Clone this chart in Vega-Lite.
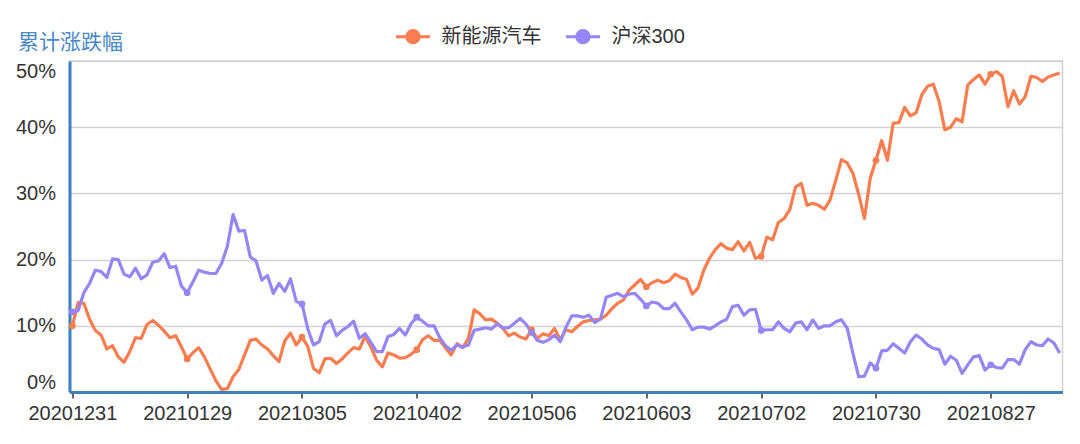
{
  "$schema": "https://vega.github.io/schema/vega-lite/v6.json",
  "width": 993,
  "height": 331,
  "autosize": {"type": "none"},
  "padding": {"left": 69.5, "top": 61, "right": 17.5, "bottom": 52},
  "background": "white",
  "config": {
    "font": "Liberation Sans, Noto Sans CJK SC",
    "view": {"stroke": "#d2d2d2", "strokeWidth": 1.5}
  },
  "data": {
    "values": [
      {"date": "20201231", "新能源汽车": 10.0, "沪深300": 12.1},
      {"date": "20210104", "新能源汽车": 13.5, "沪深300": 12.3},
      {"date": "20210105", "新能源汽车": 13.4, "沪深300": 15.0},
      {"date": "20210106", "新能源汽车": 11.0, "沪深300": 16.4},
      {"date": "20210107", "新能源汽车": 9.3, "沪深300": 18.4},
      {"date": "20210108", "新能源汽车": 8.6, "沪深300": 18.2},
      {"date": "20210111", "新能源汽车": 6.5, "沪深300": 17.3},
      {"date": "20210112", "新能源汽车": 7.0, "沪深300": 20.1},
      {"date": "20210113", "新能源汽车": 5.3, "沪深300": 20.0},
      {"date": "20210114", "新能源汽车": 4.5, "沪深300": 17.8},
      {"date": "20210115", "新能源汽车": 6.1, "沪深300": 17.4},
      {"date": "20210118", "新能源汽车": 8.2, "沪深300": 18.7},
      {"date": "20210119", "新能源汽车": 8.1, "沪深300": 17.1},
      {"date": "20210120", "新能源汽车": 10.2, "沪深300": 17.7},
      {"date": "20210121", "新能源汽车": 10.8, "沪深300": 19.6},
      {"date": "20210122", "新能源汽车": 10.1, "沪深300": 19.8},
      {"date": "20210125", "新能源汽车": 9.2, "沪深300": 20.9},
      {"date": "20210126", "新能源汽车": 8.2, "沪深300": 18.8},
      {"date": "20210127", "新能源汽车": 8.5, "沪深300": 19.0},
      {"date": "20210128", "新能源汽车": 6.8, "沪深300": 16.0},
      {"date": "20210129", "新能源汽车": 5.0, "沪深300": 15.0},
      {"date": "20210201", "新能源汽车": 5.9, "沪深300": 16.6},
      {"date": "20210202", "新能源汽车": 6.7, "沪深300": 18.4},
      {"date": "20210203", "新能源汽车": 5.3, "沪深300": 18.1},
      {"date": "20210204", "新能源汽车": 3.5, "沪深300": 17.9},
      {"date": "20210205", "新能源汽车": 1.7, "沪深300": 17.9},
      {"date": "20210208", "新能源汽车": 0.4, "沪深300": 19.4},
      {"date": "20210209", "新能源汽车": 0.5, "沪深300": 22.0},
      {"date": "20210210", "新能源汽车": 2.3, "沪深300": 26.8},
      {"date": "20210218", "新能源汽车": 3.4, "沪深300": 24.3},
      {"date": "20210219", "新能源汽车": 5.6, "沪深300": 24.4},
      {"date": "20210222", "新能源汽车": 7.8, "沪深300": 20.4},
      {"date": "20210223", "新能源汽车": 8.0, "沪深300": 19.8},
      {"date": "20210224", "新能源汽车": 7.1, "沪深300": 16.9},
      {"date": "20210225", "新能源汽车": 6.5, "沪深300": 17.6},
      {"date": "20210226", "新能源汽车": 5.5, "沪深300": 14.9},
      {"date": "20210301", "新能源汽车": 4.6, "沪深300": 16.4},
      {"date": "20210302", "新能源汽车": 7.7, "沪深300": 15.2},
      {"date": "20210303", "新能源汽车": 8.9, "沪深300": 17.1},
      {"date": "20210304", "新能源汽车": 7.1, "沪深300": 13.7},
      {"date": "20210305", "新能源汽车": 8.3, "沪深300": 13.3},
      {"date": "20210308", "新能源汽车": 6.9, "沪深300": 9.6},
      {"date": "20210309", "新能源汽车": 3.6, "沪深300": 7.1},
      {"date": "20210310", "新能源汽车": 2.9, "沪深300": 7.6},
      {"date": "20210311", "新能源汽车": 5.0, "沪深300": 10.3},
      {"date": "20210312", "新能源汽车": 5.1, "沪深300": 10.8},
      {"date": "20210315", "新能源汽车": 4.3, "沪深300": 8.5},
      {"date": "20210316", "新能源汽车": 5.0, "沪深300": 9.3},
      {"date": "20210317", "新能源汽车": 5.9, "沪深300": 9.9},
      {"date": "20210318", "新能源汽车": 6.7, "沪深300": 10.7},
      {"date": "20210319", "新能源汽车": 6.5, "沪深300": 8.1},
      {"date": "20210322", "新能源汽车": 8.4, "沪深300": 8.8},
      {"date": "20210323", "新能源汽车": 6.8, "沪深300": 7.5},
      {"date": "20210324", "新能源汽车": 4.8, "沪深300": 6.1},
      {"date": "20210325", "新能源汽车": 3.8, "沪深300": 6.1},
      {"date": "20210326", "新能源汽车": 5.9, "沪深300": 8.4},
      {"date": "20210329", "新能源汽车": 5.6, "沪深300": 8.7},
      {"date": "20210330", "新能源汽车": 5.1, "沪深300": 9.6},
      {"date": "20210331", "新能源汽车": 5.2, "沪深300": 8.6},
      {"date": "20210401", "新能源汽车": 5.7, "沪深300": 10.3},
      {"date": "20210402", "新能源汽车": 6.4, "沪深300": 11.3},
      {"date": "20210406", "新能源汽车": 7.9, "沪深300": 10.7},
      {"date": "20210407", "新能源汽车": 8.5, "沪深300": 10.0},
      {"date": "20210408", "新能源汽车": 7.8, "沪深300": 10.0},
      {"date": "20210409", "新能源汽车": 7.8, "沪深300": 8.2},
      {"date": "20210412", "新能源汽车": 6.7, "沪深300": 7.0},
      {"date": "20210413", "新能源汽车": 5.6, "沪深300": 6.3},
      {"date": "20210414", "新能源汽车": 7.3, "沪深300": 7.1},
      {"date": "20210415", "新能源汽车": 6.7, "沪深300": 6.8},
      {"date": "20210416", "新能源汽车": 8.1, "沪深300": 7.1},
      {"date": "20210419", "新能源汽车": 12.4, "沪深300": 9.3},
      {"date": "20210420", "新能源汽车": 11.8, "沪深300": 9.5},
      {"date": "20210421", "新能源汽车": 10.9, "沪深300": 9.7},
      {"date": "20210422", "新能源汽车": 11.0, "沪深300": 9.5},
      {"date": "20210423", "新能源汽车": 10.4, "沪深300": 10.3},
      {"date": "20210426", "新能源汽车": 9.6, "沪深300": 9.7},
      {"date": "20210427", "新能源汽车": 8.5, "沪深300": 9.7},
      {"date": "20210428", "新能源汽车": 8.9, "沪深300": 10.4},
      {"date": "20210429", "新能源汽车": 8.3, "沪深300": 11.1},
      {"date": "20210430", "新能源汽车": 8.0, "沪深300": 10.3},
      {"date": "20210506", "新能源汽车": 9.4, "沪深300": 9.0},
      {"date": "20210507", "新能源汽车": 8.1, "沪深300": 7.8},
      {"date": "20210510", "新能源汽车": 8.8, "沪深300": 7.5},
      {"date": "20210511", "新能源汽车": 8.5, "沪深300": 7.9},
      {"date": "20210512", "新能源汽车": 9.6, "沪深300": 8.6},
      {"date": "20210513", "新能源汽车": 7.9, "沪深300": 7.6},
      {"date": "20210514", "新能源汽车": 9.4, "沪深300": 9.8},
      {"date": "20210517", "新能源汽车": 9.1, "沪深300": 11.5},
      {"date": "20210518", "新能源汽车": 9.9, "沪深300": 11.5},
      {"date": "20210519", "新能源汽车": 10.6, "沪深300": 11.3},
      {"date": "20210520", "新能源汽车": 10.8, "沪深300": 11.6},
      {"date": "20210521", "新能源汽车": 10.9, "沪深300": 10.5},
      {"date": "20210524", "新能源汽车": 11.0, "沪深300": 11.0},
      {"date": "20210525", "新能源汽车": 11.6, "沪深300": 14.3},
      {"date": "20210526", "新能源汽车": 12.6, "沪深300": 14.6},
      {"date": "20210527", "新能源汽车": 13.4, "沪深300": 14.9},
      {"date": "20210528", "新能源汽车": 13.9, "沪深300": 14.4},
      {"date": "20210531", "新能源汽车": 15.4, "沪深300": 14.8},
      {"date": "20210601", "新能源汽车": 16.2, "沪深300": 14.9},
      {"date": "20210602", "新能源汽车": 17.0, "沪深300": 14.0},
      {"date": "20210603", "新能源汽车": 15.9, "沪深300": 13.0},
      {"date": "20210604", "新能源汽车": 16.5, "沪深300": 13.6},
      {"date": "20210607", "新能源汽车": 16.9, "沪深300": 13.4},
      {"date": "20210608", "新能源汽车": 16.5, "沪深300": 12.6},
      {"date": "20210609", "新能源汽车": 16.8, "沪深300": 12.6},
      {"date": "20210610", "新能源汽车": 17.8, "沪深300": 13.4},
      {"date": "20210611", "新能源汽车": 17.3, "沪深300": 12.1},
      {"date": "20210615", "新能源汽车": 17.0, "沪深300": 10.9},
      {"date": "20210616", "新能源汽车": 14.8, "沪深300": 9.4},
      {"date": "20210617", "新能源汽车": 15.7, "沪深300": 9.8},
      {"date": "20210618", "新能源汽车": 18.4, "沪深300": 9.8},
      {"date": "20210621", "新能源汽车": 20.2, "沪深300": 9.5},
      {"date": "20210622", "新能源汽车": 21.5, "沪深300": 10.0},
      {"date": "20210623", "新能源汽车": 22.4, "沪深300": 10.6},
      {"date": "20210624", "新能源汽车": 21.7, "沪深300": 11.0},
      {"date": "20210625", "新能源汽车": 21.5, "沪深300": 12.9},
      {"date": "20210628", "新能源汽车": 22.7, "沪深300": 13.1},
      {"date": "20210629", "新能源汽车": 21.3, "沪深300": 11.6},
      {"date": "20210630", "新能源汽车": 22.6, "沪深300": 12.4},
      {"date": "20210701", "新能源汽车": 20.2, "沪深300": 12.5},
      {"date": "20210702", "新能源汽车": 20.5, "沪深300": 9.3},
      {"date": "20210705", "新能源汽车": 23.4, "沪深300": 9.4},
      {"date": "20210706", "新能源汽车": 23.0, "沪深300": 9.4},
      {"date": "20210707", "新能源汽车": 25.6, "沪深300": 10.6},
      {"date": "20210708", "新能源汽车": 26.2, "沪深300": 9.6},
      {"date": "20210709", "新能源汽车": 27.6, "沪深300": 9.1},
      {"date": "20210712", "新能源汽车": 31.0, "沪深300": 10.4},
      {"date": "20210713", "新能源汽车": 31.5, "沪深300": 10.6},
      {"date": "20210714", "新能源汽车": 28.2, "沪深300": 9.4},
      {"date": "20210715", "新能源汽车": 28.5, "沪深300": 10.9},
      {"date": "20210716", "新能源汽车": 28.2, "沪深300": 9.6},
      {"date": "20210719", "新能源汽车": 27.6, "沪深300": 10.0},
      {"date": "20210720", "新能源汽车": 29.0, "沪深300": 10.0},
      {"date": "20210721", "新能源汽车": 32.0, "沪深300": 10.6},
      {"date": "20210722", "新能源汽车": 35.1, "沪深300": 10.9},
      {"date": "20210723", "新能源汽车": 34.6, "沪深300": 9.6},
      {"date": "20210726", "新能源汽车": 33.0, "沪深300": 5.8},
      {"date": "20210727", "新能源汽车": 29.8, "沪深300": 2.3},
      {"date": "20210728", "新能源汽车": 26.2, "沪深300": 2.4},
      {"date": "20210729", "新能源汽车": 32.3, "沪深300": 4.4},
      {"date": "20210730", "新能源汽车": 35.0, "沪深300": 3.6},
      {"date": "20210802", "新能源汽车": 38.0, "沪深300": 6.2},
      {"date": "20210803", "新能源汽车": 35.0, "沪深300": 6.3},
      {"date": "20210804", "新能源汽车": 40.6, "沪深300": 7.3},
      {"date": "20210805", "新能源汽车": 40.7, "沪深300": 6.6},
      {"date": "20210806", "新能源汽车": 43.0, "沪深300": 5.9},
      {"date": "20210809", "新能源汽车": 41.7, "沪深300": 7.6},
      {"date": "20210810", "新能源汽车": 42.2, "沪深300": 8.6},
      {"date": "20210811", "新能源汽车": 44.9, "沪深300": 8.0},
      {"date": "20210812", "新能源汽车": 46.2, "沪深300": 7.1},
      {"date": "20210813", "新能源汽车": 46.5, "沪深300": 6.6},
      {"date": "20210816", "新能源汽车": 43.9, "沪深300": 6.4},
      {"date": "20210817", "新能源汽车": 39.6, "沪深300": 4.2},
      {"date": "20210818", "新能源汽车": 40.0, "沪深300": 5.4},
      {"date": "20210819", "新能源汽车": 41.3, "沪深300": 4.8},
      {"date": "20210820", "新能源汽车": 40.8, "沪深300": 2.8},
      {"date": "20210823", "新能源汽车": 46.4, "沪深300": 4.1},
      {"date": "20210824", "新能源汽车": 47.2, "沪深300": 5.3},
      {"date": "20210825", "新能源汽车": 47.9, "沪深300": 5.5},
      {"date": "20210826", "新能源汽车": 46.5, "沪深300": 3.3},
      {"date": "20210827", "新能源汽车": 48.0, "沪深300": 4.1},
      {"date": "20210830", "新能源汽车": 48.4, "沪深300": 3.7},
      {"date": "20210831", "新能源汽车": 47.7, "沪深300": 3.6},
      {"date": "20210901", "新能源汽车": 43.1, "沪深300": 4.9},
      {"date": "20210902", "新能源汽车": 45.5, "沪深300": 4.9},
      {"date": "20210903", "新能源汽车": 43.5, "沪深300": 4.2},
      {"date": "20210906", "新能源汽车": 44.6, "沪深300": 6.4},
      {"date": "20210907", "新能源汽车": 47.7, "沪深300": 7.6},
      {"date": "20210908", "新能源汽车": 47.5, "沪深300": 7.1},
      {"date": "20210909", "新能源汽车": 46.9, "沪深300": 7.0},
      {"date": "20210910", "新能源汽车": 47.6, "沪深300": 8.0},
      {"date": "20210913", "新能源汽车": 47.9, "沪深300": 7.4},
      {"date": "20210914", "新能源汽车": 48.2, "沪深300": 5.9}
    ]
  },
  "transform": [
    {"fold": ["新能源汽车", "沪深300"], "as": ["series", "value"]}
  ],
  "encoding": {
    "x": {
      "field": "date",
      "type": "ordinal",
      "scale": {"type": "point", "padding": 0.5},
      "axis": {
        "title": null,
        "values": ["20201231", "20210129", "20210305", "20210402", "20210506", "20210603", "20210702", "20210730", "20210827"],
        "labelAngle": 0,
        "labelFontSize": 20,
        "labelColor": "#333333",
        "labelPadding": 5,
        "domainColor": "#3f80bf",
        "domainWidth": 3,
        "ticks": true,
        "tickColor": "#333333",
        "tickSize": 6,
        "tickWidth": 1.5,
        "grid": false
      }
    },
    "y": {
      "field": "value",
      "type": "quantitative",
      "scale": {"domain": [0, 50], "nice": false, "zero": false},
      "axis": {
        "title": "累计涨跌幅",
        "titleAngle": 0,
        "titleX": -52,
        "titleY": -19,
        "titleAlign": "left",
        "titleBaseline": "middle",
        "titleFontSize": 21,
        "titleFontWeight": "normal",
        "titleColor": "#4a88c6",
        "values": [0, 10, 20, 30, 40, 50],
        "labelExpr": "datum.value + '%'",
        "labelFontSize": 20,
        "labelColor": "#333333",
        "labelPadding": 14,
        "labelFlush": true,
        "ticks": false,
        "domainColor": "#3f80bf",
        "domainWidth": 3,
        "grid": true,
        "gridColor": "#d2d2d2",
        "gridWidth": 1.5
      }
    },
    "color": {
      "field": "series",
      "type": "nominal",
      "scale": {"domain": ["新能源汽车", "沪深300"], "range": ["#f97d4e", "#9586f5"]},
      "legend": {
        "title": null,
        "orient": "none",
        "legendX": 325,
        "legendY": -43,
        "direction": "horizontal",
        "padding": 0,
        "symbolType": "M-1,0L1,0M-0.36,0A0.36,0.36,0,1,1,0.36,0A0.36,0.36,0,1,1,-0.36,0Z",
        "symbolSize": 1156,
        "symbolStrokeWidth": 3,
        "symbolOpacity": 1,
        "labelFontSize": 20,
        "labelColor": "#333333",
        "labelOffset": 10,
        "columnPadding": 18,
        "encode": {
          "symbols": {
            "update": {
              "fill": {"scale": "color", "field": "value"},
              "stroke": {"scale": "color", "field": "value"}
            }
          }
        }
      }
    }
  },
  "layer": [
    {"mark": {"type": "line", "strokeWidth": 3.2, "strokeJoin": "round"}},
    {
      "transform": [
        {"filter": {"field": "date", "oneOf": ["20201231", "20210129", "20210305", "20210402", "20210506", "20210603", "20210702", "20210730", "20210827"]}}
      ],
      "mark": {"type": "point", "filled": true, "size": 45, "opacity": 1}
    }
  ]
}
